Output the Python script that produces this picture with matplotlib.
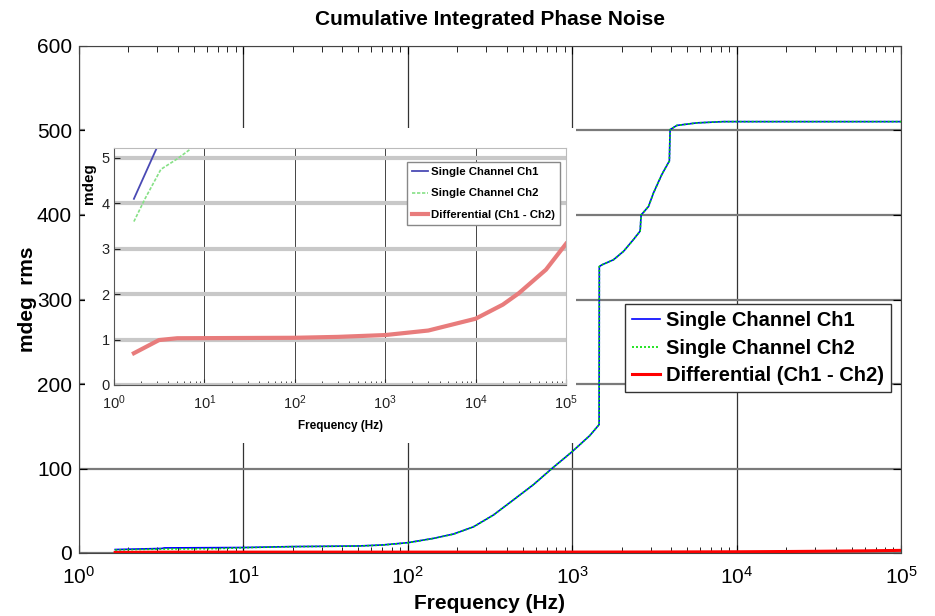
import matplotlib
matplotlib.use('Agg')
import matplotlib.pyplot as plt
from matplotlib.patches import Rectangle
from matplotlib.ticker import LogLocator, NullFormatter

plt.rcParams['font.family'] = ['Liberation Sans', 'DejaVu Sans']
plt.rcParams['mathtext.default'] = 'regular'

# cumulative integrated phase noise, mdeg rms
freq_ch1 = [1.66, 2.94, 3.2, 3.3, 10, 20, 50, 70, 100, 144, 190, 251, 332, 440, 582,
            753, 1000, 1280, 1458, 1462, 1515, 1782, 2052, 2360, 2590, 2626, 2910,
            3120, 3510, 3900, 3940, 4330, 5720, 8300, 100000]
val_ch1 = [4.1, 5.2, 5.4, 6.0, 6.5, 7.6, 8.3, 9.5, 12.2, 17.4, 22.5, 31, 45, 63, 81,
           100, 120, 139, 152, 339, 341, 347, 357, 371, 381, 400, 410,
           426, 448, 464, 501, 506, 509, 510.5, 510.5]

freq_ch2 = [1.66, 2.2, 3.3, 5.0, 7.05, 10, 20, 50, 70, 100, 144, 190, 251, 332, 440, 582,
            753, 1000, 1280, 1458, 1462, 1515, 1782, 2052, 2360, 2590, 2626, 2910,
            3120, 3510, 3900, 3940, 4330, 5720, 8300, 100000]
val_ch2 = [3.6, 4.1, 4.75, 4.98, 5.2, 6.3, 7.5, 8.2, 9.4, 12.1, 17.3, 22.4, 31, 45, 63, 81,
           100, 120, 139, 152, 339, 341, 347, 357, 371, 381, 400, 410,
           426, 448, 464, 501, 506, 509, 510.5, 510.5]

freq_diff = [1.66, 3.15, 5, 100, 300, 1000, 3000, 10000, 20000, 30000, 60000, 100000]
val_diff = [0.70, 0.99, 1.03, 1.04, 1.06, 1.10, 1.20, 1.46, 1.77, 2.02, 2.54, 3.11]

labels = ['Single Channel Ch1', 'Single Channel Ch2', 'Differential (Ch1 - Ch2)']

fig = plt.figure(figsize=(9.35, 6.16), dpi=100)
ax = fig.add_axes([79/935, 63/616, 822/935, 507/616])

ax.plot(freq_ch1, val_ch1, color='#0000ff', lw=1.2, label=labels[0])
ax.plot(freq_ch2, val_ch2, color='#00e000', lw=1.2, ls=(0, (1.2, 1.2)), label=labels[1])
ax.plot(freq_diff, val_diff, color='#ff0000', lw=2.2, label=labels[2])

ax.set_xscale('log')
ax.set_xlim(1, 1e5)
ax.set_ylim(0, 600)
ax.set_yticks(range(0, 601, 100))
ax.xaxis.set_minor_locator(LogLocator(base=10, subs=range(2, 10)))
ax.xaxis.set_minor_formatter(NullFormatter())
ax.tick_params(which='both', direction='in', top=True, right=True, labelsize=15)
ax.tick_params(which='major', length=6, pad=5)
ax.tick_params(axis='x', which='major', pad=9)
ax.tick_params(which='minor', length=4)
ax.xaxis.grid(True, color='#333333', lw=0.9)
ax.yaxis.grid(True, color='#7a7a7a', lw=1.6)
for s in ax.spines.values():
    s.set_color('#444444')

ax.set_title('Cumulative Integrated Phase Noise', fontsize=15, fontweight='bold', pad=15)
ax.set_xlabel('Frequency (Hz)', fontsize=15, fontweight='bold', labelpad=5)
ax.set_ylabel('mdeg  rms', fontsize=15, fontweight='bold')
ax.yaxis.set_label_coords(-0.051, 0.5)

leg = ax.legend(loc='upper left', bbox_to_anchor=(0.664, 0.491), borderaxespad=0,
                fancybox=False, edgecolor='#333333', framealpha=1,
                prop={'size': 14.5, 'weight': 'bold'}, handlelength=1.4,
                handletextpad=0.3, labelspacing=0.42, borderpad=0.35)
leg.get_frame().set_linewidth(1.0)

# white patch under the pasted inset
ax.add_patch(Rectangle((85/935, 173/616), 491/935, 315/616, transform=fig.transFigure,
                       facecolor='white', edgecolor='none', clip_on=False, zorder=10))

# inset: zoom of the low range
ins = fig.add_axes([114/935, 231/616, 452/935, 237/616])
ins.plot(freq_ch1, val_ch1, color='#4a4ab4', lw=1.3)
ins.plot(freq_ch2, val_ch2, color='#86e086', lw=1.2, ls=(0, (2, 1)))
ins.plot(freq_diff, val_diff, color='#e87c7c', lw=3)
ins.set_xscale('log')
ins.set_xlim(1, 1e5)
ins.set_ylim(0, 5.22)
ins.set_yticks(range(0, 6))
ins.xaxis.set_minor_locator(LogLocator(base=10, subs=range(2, 10)))
ins.xaxis.set_minor_formatter(NullFormatter())
ins.tick_params(which='both', direction='in', labelsize=10.5, colors='#222222')
ins.tick_params(which='major', length=4, pad=3)
ins.tick_params(axis='x', which='major', pad=6)
ins.tick_params(which='minor', length=3)
ins.xaxis.grid(True, color='#444444', lw=0.7)
ins.yaxis.grid(True, color='#c8c8c8', lw=3)
ins.set_axisbelow(True)
for s in ins.spines.values():
    s.set_color('#bbbbbb')
ins.spines['left'].set_color('#555555')
ins.spines['bottom'].set_color('#555555')

ins.set_xlabel('Frequency (Hz)', fontsize=8.5, fontweight='bold', labelpad=6)
ins.set_ylabel('mdeg', fontsize=11, fontweight='bold')
ins.yaxis.set_label_coords(-0.04, 0.85)

ileg = ins.legend(ins.get_lines(), labels, loc='upper right', bbox_to_anchor=(0.987, 0.941),
                  borderaxespad=0, fancybox=False, edgecolor='#888888', framealpha=1,
                  prop={'size': 8.2, 'weight': 'bold'},
                  handlelength=1.4, handletextpad=0.3, labelspacing=1.0, borderpad=0.45)

fig.savefig('out.png', dpi=100)
